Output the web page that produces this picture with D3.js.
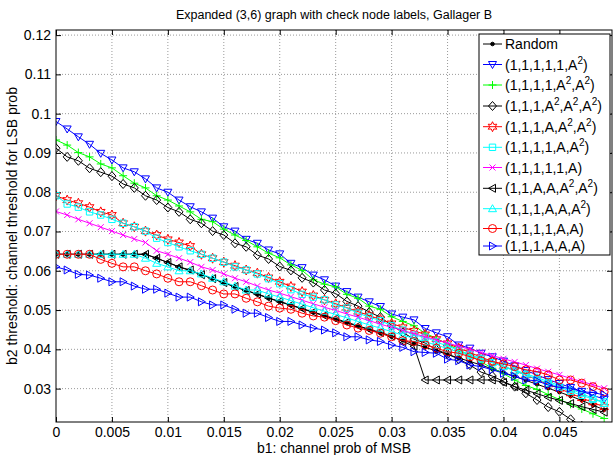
<!DOCTYPE html>
<html lang="en">
<head>
    <meta charset="UTF-8">
    <title>Expanded (3,6) graph with check node labels, Gallager B</title>
    <script src="https://d3js.org/d3.v7.min.js"></script>
    <style>
        body { margin: 0; background: #fff; }
        text { font-family: "Liberation Sans", Arial, sans-serif; fill: #000; }
        .grid line { stroke: #9a9a9a; stroke-width: 1; stroke-dasharray: 1,2; }
        .tick line { stroke: #000; }
    </style>
</head>
<body>
    <svg id="chart"></svg>
    <script>
        // x values: channel prob of MSB
        const xProb = [0, 0.001, 0.002, 0.003, 0.004, 0.005, 0.006, 0.007, 0.008, 0.009,
            0.010, 0.011, 0.012, 0.013, 0.014, 0.015, 0.016, 0.017, 0.018, 0.019,
            0.020, 0.021, 0.022, 0.023, 0.024, 0.025, 0.026, 0.027, 0.028, 0.029,
            0.030, 0.031, 0.032, 0.033, 0.034, 0.035, 0.036, 0.037, 0.038, 0.039,
            0.040, 0.041, 0.042, 0.043, 0.044, 0.045, 0.046, 0.047, 0.048, 0.049];

        // b2 thresholds, one array per labelling
        const random = [.0642, .0642, .0642, .0642, .0642, .0642, .0642, .0642, .0642, .0632,
            .0621, .0610, .0600, .0590, .0580, .0569, .0559, .0549, .0540, .0530,
            .0521, .0512, .0503, .0494, .0485, .0476, .0467, .0459, .0450, .0441,
            .0432, .0423, .0414, .0405, .0396, .0387, .0378, .0369, .0360, .0350,
            .0341, .0331, .0321, .0311, .0301, .0291, .0281, .0270, .0258, .0246];
        const s11111A2 = [.0980, .0961, .0941, .0922, .0899, .0882, .0862, .0852, .0834, .0811,
            .0800, .0780, .0763, .0750, .0734, .0712, .0701, .0680, .0670, .0653,
            .0643, .0619, .0608, .0589, .0577, .0561, .0547, .0533, .0521, .0509,
            .0490, .0482, .0475, .0453, .0442, .0432, .0411, .0403, .0390, .0381,
            .0370, .0358, .0346, .0335, .0323, .0313, .0303, .0293, .0283, .0273];
        const s1111A2A2 = [.0933, .0920, .0901, .0890, .0872, .0862, .0842, .0823, .0811, .0791,
            .0780, .0765, .0750, .0731, .0725, .0706, .0691, .0677, .0661, .0645,
            .0633, .0615, .0601, .0577, .0566, .0559, .0540, .0530, .0510, .0502,
            .0483, .0471, .0460, .0441, .0428, .0413, .0398, .0385, .0368, .0352,
            .0338, .0322, .0308, .0298, .0285, .0272, .0260, .0248, .0236, .0224];
        const s111A2A2A2 = [.0912, .0890, .0880, .0861, .0851, .0841, .0821, .0811, .0791, .0780,
            .0761, .0750, .0731, .0721, .0701, .0691, .0670, .0661, .0640, .0630,
            .0611, .0601, .0582, .0570, .0551, .0542, .0522, .0510, .0495, .0482,
            .0461, .0443, .0426, .0416, .0399, .0388, .0375, .0360, .0342, .0332,
            .0318, .0305, .0288, .0271, .0253, .0241, .0222, .0205, .0190, .0175];
        const s111AA2A2 = [.0791, .0780, .0772, .0762, .0750, .0742, .0721, .0712, .0701, .0691,
            .0680, .0672, .0663, .0642, .0632, .0622, .0613, .0602, .0594, .0583,
            .0572, .0560, .0547, .0537, .0526, .0516, .0506, .0496, .0486, .0476,
            .0466, .0456, .0447, .0438, .0426, .0415, .0403, .0392, .0380, .0369,
            .0357, .0346, .0334, .0323, .0311, .0300, .0288, .0276, .0265, .0253];
        const s1111AA2 = [.0791, .0770, .0762, .0750, .0742, .0731, .0721, .0712, .0701, .0683,
            .0672, .0661, .0651, .0642, .0632, .0622, .0610, .0602, .0592, .0580,
            .0567, .0552, .0540, .0533, .0526, .0513, .0505, .0492, .0482, .0473,
            .0460, .0449, .0436, .0431, .0419, .0408, .0398, .0387, .0377, .0366,
            .0356, .0345, .0335, .0324, .0314, .0304, .0293, .0283, .0273, .0267];
        const s11111A = [.0751, .0742, .0731, .0721, .0711, .0701, .0691, .0681, .0672, .0651,
            .0642, .0632, .0622, .0610, .0602, .0592, .0581, .0572, .0561, .0551,
            .0543, .0534, .0525, .0516, .0507, .0499, .0490, .0482, .0473, .0464,
            .0456, .0448, .0440, .0432, .0424, .0416, .0408, .0400, .0392, .0384,
            .0376, .0368, .0360, .0351, .0343, .0335, .0326, .0318, .0310, .0301];
        const s11AAA2A2 = [.0642, .0642, .0642, .0642, .0642, .0642, .0642, .0642, .0642, .0632,
            .0621, .0610, .0602, .0590, .0580, .0570, .0560, .0550, .0541, .0531,
            .0522, .0513, .0504, .0495, .0486, .0478, .0469, .0460, .0451, .0443,
            .0434, .0420, .0408, .0322, .0322, .0322, .0322, .0322, .0322, .0322,
            .0316, .0305, .0296, .0287, .0278, .0270, .0262, .0254, .0247, .0240];
        const s111AAA2 = [.0642, .0642, .0642, .0642, .0642, .0642, .0642, .0642, .0632, .0619,
            .0610, .0600, .0600, .0592, .0581, .0572, .0561, .0551, .0551, .0541,
            .0533, .0524, .0515, .0506, .0497, .0489, .0480, .0471, .0462, .0454,
            .0445, .0436, .0428, .0419, .0411, .0402, .0393, .0384, .0375, .0366,
            .0357, .0347, .0338, .0328, .0318, .0308, .0298, .0288, .0275, .0262];
        const s1111AA = [.0642, .0642, .0642, .0642, .0629, .0619, .0610, .0610, .0600, .0592,
            .0581, .0572, .0572, .0562, .0551, .0541, .0541, .0530, .0521, .0510,
            .0505, .0502, .0492, .0485, .0482, .0473, .0462, .0454, .0448, .0441,
            .0432, .0422, .0420, .0411, .0403, .0394, .0390, .0381, .0371, .0369,
            .0363, .0356, .0348, .0343, .0335, .0322, .0322, .0314, .0305, .0292];
        const s111AAA = [.0610, .0602, .0591, .0589, .0581, .0572, .0572, .0561, .0553, .0553,
            .0543, .0533, .0533, .0521, .0513, .0513, .0502, .0492, .0492, .0481,
            .0471, .0471, .0462, .0454, .0449, .0442, .0432, .0432, .0424, .0420,
            .0411, .0405, .0394, .0392, .0390, .0375, .0371, .0360, .0356, .0348,
            .0339, .0331, .0322, .0320, .0309, .0303, .0301, .0292, .0290, .0284];

        const seriesLabels = ["Random", "(1,1,1,1,1,A^2)", "(1,1,1,1,A^2,A^2)", "(1,1,1,A^2,A^2,A^2)",
            "(1,1,1,A,A^2,A^2)", "(1,1,1,1,A,A^2)", "(1,1,1,1,1,A)", "(1,1,A,A,A^2,A^2)",
            "(1,1,1,A,A,A^2)", "(1,1,1,1,A,A)", "(1,1,1,A,A,A)"];
        const seriesColors = ["#000000", "#0000ff", "#00ff00", "#000000", "#ff0000", "#00ffff",
            "#ff00ff", "#000000", "#00ffff", "#ff0000", "#0000ff"];
        const seriesMarkers = [".", "v", "+", "d", "h", "s", "x", "<", "^", "o", ">"];
        const seriesValues = [random, s11111A2, s1111A2A2, s111A2A2A2, s111AA2A2, s1111AA2,
            s11111A, s11AAA2A2, s111AAA2, s1111AA, s111AAA];

        const xTicks = [0, 0.005, 0.01, 0.015, 0.02, 0.025, 0.03, 0.035, 0.04, 0.045];
        const yTicks = [0.03, 0.04, 0.05, 0.06, 0.07, 0.08, 0.09, 0.1, 0.11, 0.12];

        const W = 613, H = 455;
        const plot = { left: 56, right: 612, top: 30, bottom: 422 };

        const svg = d3.select("#chart").attr("width", W).attr("height", H);

        const x = d3.scaleLinear().domain([0, 0.0497]).range([plot.left, plot.right]);
        const y = d3.scaleLinear().domain([0.0215, 0.1213]).range([plot.bottom, plot.top]);

        svg.append("defs").append("clipPath").attr("id", "plotclip")
            .append("rect")
            .attr("x", plot.left).attr("y", plot.top)
            .attr("width", plot.right - plot.left).attr("height", plot.bottom - plot.top);

        // dotted grid
        const grid = svg.append("g").attr("class", "grid");
        grid.selectAll(".gx").data(xTicks.slice(1)).enter().append("line")
            .attr("x1", d => x(d)).attr("x2", d => x(d))
            .attr("y1", plot.top).attr("y2", plot.bottom);
        grid.selectAll(".gy").data(yTicks).enter().append("line")
            .attr("x1", plot.left).attr("x2", plot.right)
            .attr("y1", d => y(d)).attr("y2", d => y(d));

        // axes, ticks pointing inward like matlab
        const fmt = d3.format("");
        const axB = svg.append("g").attr("transform", `translate(0,${plot.bottom})`)
            .call(d3.axisBottom(x).tickValues(xTicks).tickSize(-5).tickPadding(5).tickFormat(fmt));
        const axT = svg.append("g").attr("transform", `translate(0,${plot.top})`)
            .call(d3.axisTop(x).tickValues(xTicks).tickSize(-5).tickFormat(""));
        const axL = svg.append("g").attr("transform", `translate(${plot.left},0)`)
            .call(d3.axisLeft(y).tickValues(yTicks).tickSize(-5).tickPadding(5).tickFormat(fmt));
        const axR = svg.append("g").attr("transform", `translate(${plot.right},0)`)
            .call(d3.axisRight(y).tickValues(yTicks).tickSize(-5).tickFormat(""));
        [axB, axT, axL, axR].forEach(a => {
            a.select(".domain").remove();
            a.selectAll("text").style("font-size", "14px").style("font-family", "'Liberation Sans', Arial, sans-serif");
        });

        // marker shapes
        function markerPath(m) {
            const r = 4;
            switch (m) {
                case "v": return "M-4,-3L4,-3L0,4Z";
                case "^": return "M-4,3L4,3L0,-4Z";
                case "<": return "M3,-4L3,4L-4,0Z";
                case ">": return "M-3,-4L-3,4L4,0Z";
                case "s": return "M-3.2,-3.2H3.2V3.2H-3.2Z";
                case "d": return "M0,-4.5L4,0L0,4.5L-4,0Z";
                case "+": return "M-4,0H4M0,-4V4";
                case "x": return "M-3,-3L3,3M-3,3L3,-3";
                case "o": return d3.arc()({innerRadius: 0, outerRadius: r, startAngle: 0, endAngle: 2 * Math.PI});
                case "h": {
                    const pts = [];
                    for (let i = 0; i < 12; i++) {
                        const rad = i % 2 === 0 ? 5 : 2.6;
                        const a = -Math.PI / 2 + i * Math.PI / 6;
                        pts.push([rad * Math.cos(a), rad * Math.sin(a)]);
                    }
                    return "M" + pts.map(p => p.join(",")).join("L") + "Z";
                }
                case ".": return d3.arc()({innerRadius: 0, outerRadius: 1.8, startAngle: 0, endAngle: 2 * Math.PI});
            }
        }

        function drawMarker(g, m, color, px, py) {
            g.append("path")
                .attr("d", markerPath(m))
                .attr("transform", `translate(${px},${py})`)
                .attr("fill", m === "." ? color : "none")
                .attr("stroke", color)
                .attr("stroke-width", 1);
        }

        const lines = svg.append("g").attr("clip-path", "url(#plotclip)");
        const line = d3.line().x(d => x(d[0])).y(d => y(d[1]));

        seriesValues.forEach((vals, i) => {
            const pts = xProb.map((xv, j) => [xv, vals[j]]);
            const g = lines.append("g");
            g.append("path")
                .attr("d", line(pts))
                .attr("fill", "none")
                .attr("stroke", seriesColors[i])
                .attr("stroke-width", 1);
            pts.forEach(p => drawMarker(g, seriesMarkers[i], seriesColors[i], x(p[0]), y(p[1])));
        });

        // box
        svg.append("rect")
            .attr("x", plot.left).attr("y", plot.top)
            .attr("width", plot.right - plot.left).attr("height", plot.bottom - plot.top)
            .attr("fill", "none").attr("stroke", "#000").attr("stroke-width", 1);

        // legend
        const legendRows = [44, 64.5, 85, 106, 126.7, 147.3, 167.5, 188.3, 208.7, 228.5, 246];
        const legend = svg.append("g");
        legend.append("rect")
            .attr("x", 479).attr("y", 34).attr("width", 131).attr("height", 221)
            .attr("fill", "#fff").attr("stroke", "#000").attr("stroke-width", 1);

        seriesLabels.forEach((lab, i) => {
            const ly = legendRows[i];
            legend.append("line")
                .attr("x1", 483).attr("x2", 502).attr("y1", ly).attr("y2", ly)
                .attr("stroke", seriesColors[i]).attr("stroke-width", 1);
            drawMarker(legend, seriesMarkers[i], seriesColors[i], 492.5, ly);
            const t = legend.append("text").attr("x", 505).attr("y", ly + 5).style("font-size", "14px");
            const parts = lab.split("^2");
            parts.forEach((p, k) => {
                t.append("tspan").text(p).attr("dy", k > 0 ? 6 : null);
                if (k < parts.length - 1) {
                    t.append("tspan").text("2").style("font-size", "10px").attr("dy", -6);
                }
            });
        });

        // title and axis labels
        svg.append("text")
            .attr("x", (plot.left + plot.right) / 2).attr("y", 19)
            .attr("text-anchor", "middle").style("font-size", "12.5px")
            .text("Expanded (3,6) graph with check node labels, Gallager B");

        svg.append("text")
            .attr("x", (plot.left + plot.right) / 2).attr("y", 453)
            .attr("text-anchor", "middle").style("font-size", "14px")
            .text("b1: channel prob of MSB");

        svg.append("text")
            .attr("transform", `translate(17,${(plot.top + plot.bottom) / 2}) rotate(-90)`)
            .attr("text-anchor", "middle").style("font-size", "14px")
            .text("b2 threshold: channel threshold for LSB prob");
    </script>
</body>
</html>
